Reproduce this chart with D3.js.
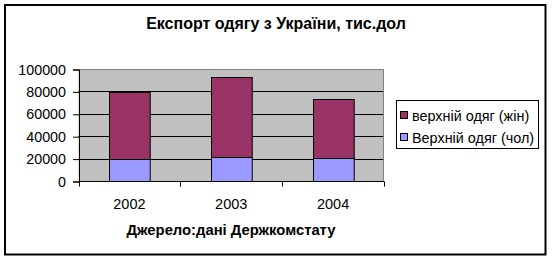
<!DOCTYPE html>
<html><head><meta charset="utf-8">
<script src="https://cdn.jsdelivr.net/npm/d3@7"></script>
<style>body{margin:0;background:#fff}svg{display:block;font-family:"Liberation Sans",Arial,sans-serif}</style>
</head><body><svg id="c" width="552" height="261"></svg>
<script>
const years = ["2002", "2003", "2004"];
const men = [19200, 21500, 20600];     // Верхній одяг (чол)
const women = [60500, 71100, 52300];   // верхній одяг (жін)
const yTicks = [0, 20000, 40000, 60000, 80000, 100000];
const seriesNames = ["верхній одяг (жін)", "Верхній одяг (чол)"];
const colors = {men: "#9999FF", women: "#993366"};

const svg = d3.select("#c");
// outer frame
svg.append("rect").attr("x", 5).attr("y", 5).attr("width", 540.5).attr("height", 249.5)
  .attr("fill", "#fff").attr("stroke", "#000").attr("stroke-width", 2);

const L = 78.5, R = 384, T = 69, B = 181;
const x = d3.scaleBand().domain(years).range([L, R]).paddingInner(0.6).paddingOuter(0.3);
const xb = d3.scaleBand().domain(years).range([L, R]);
const y = d3.scaleLinear().domain([0, 100000]).range([B, T]);

svg.append("rect").attr("x", L).attr("y", T).attr("width", R - L).attr("height", B - T).attr("fill", "#C0C0C0");
// gridlines
svg.append("g").selectAll("line").data(yTicks.filter(d => d > 0 && d < 100000)).join("line")
  .attr("x1", L).attr("x2", R).attr("y1", d => Math.round(y(d)) + 0.5).attr("y2", d => Math.round(y(d)) + 0.5)
  .attr("stroke", "#000");
// plot border top/right (grey)
svg.append("path").attr("d", `M${L},${T + 0.5}H${R - 0.5}V${B}`).attr("fill", "none").attr("stroke", "#808080");

// bars
const stacked = years.map((yr, i) => ({yr, men: men[i], women: women[i]}));
const g = svg.append("g");
g.selectAll(".m").data(stacked).join("rect")
  .attr("x", d => Math.round(x(d.yr)) + 0.5).attr("width", x.bandwidth())
  .attr("y", d => Math.round(y(d.men)) + 0.5).attr("height", d => Math.round(y(0)) - Math.round(y(d.men)))
  .attr("fill", colors.men).attr("stroke", "#000");
g.selectAll(".w").data(stacked).join("rect")
  .attr("x", d => Math.round(x(d.yr)) + 0.5).attr("width", x.bandwidth())
  .attr("y", d => Math.round(y(d.men + d.women)) + 0.5).attr("height", d => Math.round(y(d.men)) - Math.round(y(d.men + d.women)))
  .attr("fill", colors.women).attr("stroke", "#000");

// y axis
const ya = svg.append("g").attr("transform", `translate(${L + 0.5},0.5)`)
  .call(d3.axisLeft(y).tickValues(yTicks).tickSize(6).tickPadding(7).tickFormat(d3.format("d")));
ya.select(".domain").attr("stroke", "#000");
ya.selectAll("text").attr("font-size", 14.3).attr("fill", "#000").attr("font-family", "Liberation Sans, Arial, sans-serif");
// x axis
const xa = svg.append("g").attr("transform", `translate(0,${B + 0.5})`);
xa.append("line").attr("x1", L).attr("x2", R).attr("stroke", "#000");
xa.selectAll(".t").data([...years.map(d => xb(d)), R - 0.5]).join("line")
  .attr("x1", d => Math.round(d) + 0.5).attr("x2", d => Math.round(d) + 0.5).attr("y1", 0).attr("y2", 5).attr("stroke", "#000");
xa.selectAll("text").data(years).join("text")
  .attr("x", d => xb(d) + xb.bandwidth() / 2).attr("y", 27.5).attr("text-anchor", "middle")
  .attr("font-size", 14.5).text(d => d);

// titles
svg.append("text").attr("x", 276).attr("y", 29).attr("text-anchor", "middle")
  .attr("font-size", 16).attr("font-weight", "bold").text("Експорт одягу з України, тис.дол");
svg.append("text").attr("x", 231).attr("y", 235).attr("text-anchor", "middle")
  .attr("font-size", 14.8).attr("font-weight", "bold").text("Джерело:дані Держкомстату");

// legend
const lg = svg.append("g");
lg.append("rect").attr("x", 396.5).attr("y", 100.5).attr("width", 142).attr("height", 48).attr("fill", "#fff").attr("stroke", "#000");
const items = [{name: seriesNames[0], c: colors.women}, {name: seriesNames[1], c: colors.men}];
const li = lg.selectAll("g").data(items).join("g").attr("transform", (d, i) => `translate(0,${115 + i * 22})`);
li.append("rect").attr("x", 400.5).attr("y", -3.5).attr("width", 7).attr("height", 7).attr("fill", d => d.c).attr("stroke", "#000");
li.append("text").attr("x", 412).attr("y", 5.5).attr("font-size", 14.4).text(d => d.name);
</script></body></html>
